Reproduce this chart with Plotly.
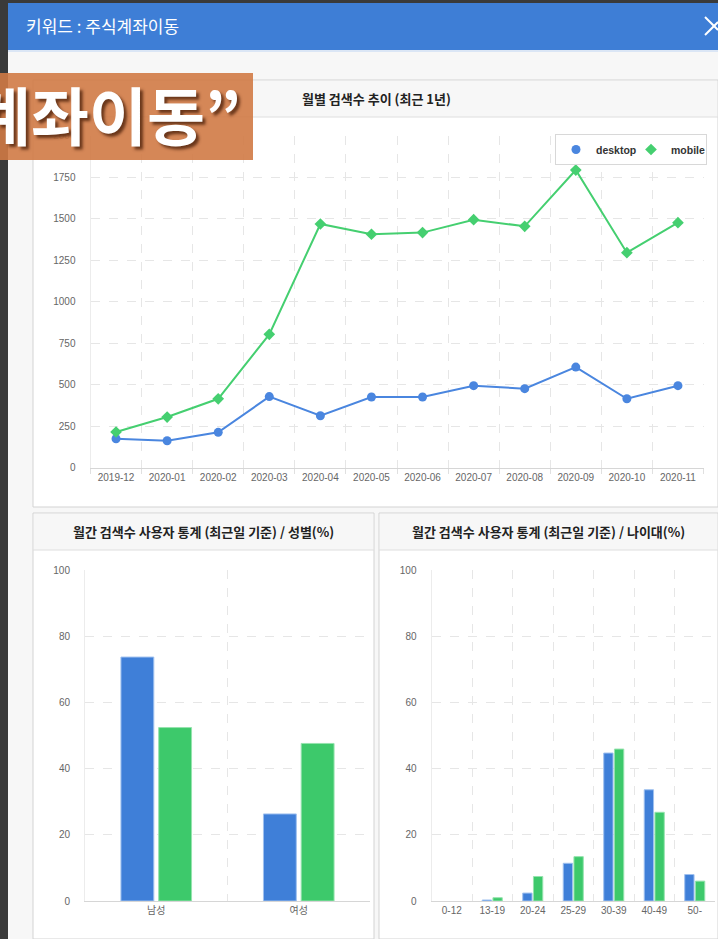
import plotly.graph_objects as go

W, H = 718, 939

# ---------------- data ----------------
months = ["2019-12", "2020-01", "2020-02", "2020-03", "2020-04", "2020-05",
          "2020-06", "2020-07", "2020-08", "2020-09", "2020-10", "2020-11"]
desktop_monthly = [173, 161, 212, 427, 312, 425, 425, 493, 475, 605, 414, 493]
mobile_monthly = [214, 304, 414, 802, 1467, 1405, 1415, 1493, 1453, 1792, 1294, 1475]
line_yticks = [0, 250, 500, 750, 1000, 1250, 1500, 1750, 2000]

genders = ["남성", "여성"]
gender_desktop = [73.7, 26.3]
gender_mobile = [52.4, 47.6]

age_groups = ["0-12", "13-19", "20-24", "25-29", "30-39", "40-49", "50-"]
age_desktop = [0, 0.3, 2.4, 11.4, 44.7, 33.6, 8.0]
age_mobile = [0, 1.0, 7.4, 13.4, 45.9, 26.8, 6.0]
pct_ticks = [0, 20, 40, 60, 80, 100]

header_text = "키워드 : 주식계좌이동"
banner_text = "계좌이동”"
title_line = "월별 검색수 추이 (최근 1년)"
title_gender = "월간 검색수 사용자 통계 (최근일 기준) / 성별(%)"
title_age = "월간 검색수 사용자 통계 (최근일 기준) / 나이대(%)"

# ---------------- styles ----------------
BLUE = "#3f7fd8"
GREEN = "#3dc96b"
LINE_BLUE = "#4a86df"
LINE_GREEN = "#45cf70"
GRID = "#e6e6e6"
TICKFONT = dict(family="Liberation Sans, Noto Sans CJK KR", size=10, color="#666")
KFONT = "Noto Sans CJK KR"


def px(x):
    return x / W


def py(y):
    return 1 - y / H


def edge_widths(values):
    return [0 if v == 0 else 1 for v in values]


fig = go.Figure()

# line chart
fig.add_trace(go.Scatter(x=months, y=desktop_monthly, mode="lines+markers",
                         line=dict(color=LINE_BLUE, width=2),
                         marker=dict(symbol="circle", size=9, color=LINE_BLUE),
                         showlegend=False, xaxis="x", yaxis="y"))
fig.add_trace(go.Scatter(x=months, y=mobile_monthly, mode="lines+markers",
                         line=dict(color=LINE_GREEN, width=2),
                         marker=dict(symbol="diamond", size=9, color=LINE_GREEN),
                         showlegend=False, xaxis="x", yaxis="y"))
# legend entries (markers only)
fig.add_trace(go.Scatter(x=[None], y=[None], mode="markers", name="desktop",
                         marker=dict(symbol="circle", size=9, color=LINE_BLUE),
                         xaxis="x", yaxis="y"))
fig.add_trace(go.Scatter(x=[None], y=[None], mode="markers", name="mobile",
                         marker=dict(symbol="diamond", size=9, color=LINE_GREEN),
                         xaxis="x", yaxis="y"))

# gender bars
fig.add_trace(go.Bar(x=genders, y=gender_desktop,
                     marker=dict(color=BLUE, line=dict(color="#9fc0ef", width=edge_widths(gender_desktop))),
                     showlegend=False, xaxis="x2", yaxis="y2"))
fig.add_trace(go.Bar(x=genders, y=gender_mobile,
                     marker=dict(color=GREEN, line=dict(color="#95e3ae", width=edge_widths(gender_mobile))),
                     showlegend=False, xaxis="x2", yaxis="y2"))
# age bars
fig.add_trace(go.Bar(x=age_groups, y=age_desktop,
                     marker=dict(color=BLUE, line=dict(color="#9fc0ef", width=edge_widths(age_desktop))),
                     showlegend=False, xaxis="x3", yaxis="y3"))
fig.add_trace(go.Bar(x=age_groups, y=age_mobile,
                     marker=dict(color=GREEN, line=dict(color="#95e3ae", width=edge_widths(age_mobile))),
                     showlegend=False, xaxis="x3", yaxis="y3"))

xcommon = dict(type="category", showgrid=True, gridcolor=GRID, griddash="dash", gridwidth=1,
               tickson="boundaries", showline=True, linecolor="#d6d6d6", linewidth=1,
               ticks="outside", ticklen=5, tickcolor="#e0e0e0", tickfont=TICKFONT,
               zeroline=False, fixedrange=True, automargin=False)
ycommon = dict(showgrid=True, gridcolor=GRID, griddash="dash", gridwidth=1,
               showline=True, linecolor="#ececec", linewidth=1, ticks="",
               tickfont=TICKFONT, zeroline=False, ticklabelstandoff=12, automargin=False)

fig.update_layout(
    width=W, height=H, autosize=False,
    margin=dict(l=0, r=0, t=0, b=0, pad=0, autoexpand=False),
    paper_bgcolor="#f7f7f7",
    plot_bgcolor="rgba(0,0,0,0)",
    bargap=0.47, bargroupgap=0.13, barmode="group",
    xaxis=dict(xcommon, domain=[px(90.5), px(703.5)], anchor="y", range=[-0.5, 11.5]),
    yaxis=dict(ycommon, domain=[py(467.5), py(135.5)], anchor="x", range=[0, 2000],
               tickvals=line_yticks),
    xaxis2=dict(xcommon, domain=[px(85), px(370)], anchor="y2", range=[-0.5, 1.5], ticks=""),
    yaxis2=dict(ycommon, domain=[py(901), py(570)], anchor="x2", range=[0, 100], tickvals=pct_ticks),
    xaxis3=dict(xcommon, domain=[px(431.5), px(715)], anchor="y3", range=[-0.5, 6.5], ticks=""),
    yaxis3=dict(ycommon, domain=[py(901), py(570)], anchor="x3", range=[0, 100], tickvals=pct_ticks),
    legend=dict(orientation="h", x=px(555), y=py(134), xanchor="left", yanchor="top",
                bgcolor="#ffffff", bordercolor="#d8d8d8", borderwidth=1,
                font=dict(family="Liberation Sans", size=10.5, color="#333", weight="bold"),
                itemwidth=30, entrywidth=30, tracegroupgap=0),
)

shapes = []


def rect(x0, y0, x1, y1, fill, line=None, layer="below", lw=1):
    shapes.append(dict(type="rect", xref="paper", yref="paper",
                       x0=px(x0), x1=px(x1), y0=py(y1), y1=py(y0),
                       fillcolor=fill, layer=layer,
                       line=dict(color=line or "rgba(0,0,0,0)", width=lw if line else 0)))


# top dark strip and blue header
rect(0, 0, 718, 3, "#3a3a3a")
rect(8, 3, 718, 50, "#3e7ed6")
rect(8, 50, 718, 52, "#dbe6f5")
# panels
for (x0, y0, x1, y1) in [(33, 80, 718, 507), (33, 513, 374, 939), (379, 513, 718, 939)]:
    rect(x0, y0, x1, y1, "#ffffff", "#d3d3d3")
    rect(x0 + 1, y0 + 1, x1 - 1, y0 + 37, "#f7f7f7")
    shapes.append(dict(type="line", xref="paper", yref="paper", x0=px(x0), x1=px(x1),
                       y0=py(y0 + 37), y1=py(y0 + 37), layer="below",
                       line=dict(color="#dedede", width=1)))
# left dark strip
rect(0, 0, 8, 939, "#3a3a3a")
# close X
for (a, b, c, d) in [(705, 17, 718, 30), (705, 35, 718, 22)]:
    shapes.append(dict(type="line", xref="paper", yref="paper", x0=px(a), x1=px(c),
                       y0=py(b), y1=py(d), layer="above", line=dict(color="#ffffff", width=2)))
# orange banner (semi transparent, above plot)
shapes.append(dict(type="rect", xref="paper", yref="paper", x0=px(0), x1=px(253),
                   y0=py(160), y1=py(73), layer="above", fillcolor="#d07a45", opacity=0.9,
                   line=dict(width=0)))

annotations = [
    dict(text=header_text, x=px(24), y=py(25), xref="paper", yref="paper", xanchor="left",
         yanchor="middle", showarrow=False, font=dict(family=KFONT, size=17, color="#ffffff")),
    dict(text=title_line, x=px(376), y=py(98.5), xref="paper", yref="paper", xanchor="center",
         yanchor="middle", showarrow=False, font=dict(family=KFONT, size=13, color="#222", weight="bold")),
    dict(text=title_gender, x=px(203.5), y=py(531.5), xref="paper", yref="paper", xanchor="center",
         yanchor="middle", showarrow=False, font=dict(family=KFONT, size=13, color="#222", weight="bold")),
    dict(text=title_age, x=px(548), y=py(531.5), xref="paper", yref="paper", xanchor="center",
         yanchor="middle", showarrow=False, font=dict(family=KFONT, size=13, color="#222", weight="bold")),
    dict(text=banner_text, x=px(243), y=py(113), xref="paper", yref="paper", xanchor="right",
         yanchor="middle", showarrow=False,
         font=dict(family=KFONT, size=63, color="#ffffff", weight="bold",
                   shadow="3px 3px 3px rgba(60,20,0,0.7)")),
]

fig.update_layout(shapes=shapes, annotations=annotations)
fig.write_html("out.html", config={"displayModeBar": False},
               post_script="document.documentElement.style.margin='0';document.body.style.margin='0';document.body.style.padding='0';")
